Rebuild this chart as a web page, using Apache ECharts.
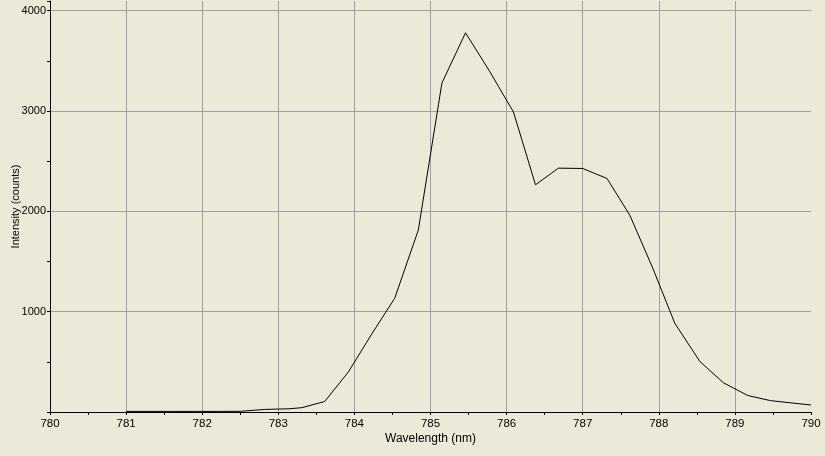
<!DOCTYPE html>
<html>
<head>
<meta charset="utf-8">
<script src="https://cdn.jsdelivr.net/npm/echarts@6/dist/echarts.min.js"></script>
<style>
html,body{margin:0;padding:0;background:#ECE9D8;}
#chart{width:825px;height:456px;}
</style>
</head>
<body>
<div id="chart"></div>
<script>
var wavelength = [781.0, 781.3, 781.6, 781.9, 782.2, 782.5, 782.83, 783.14, 783.31, 783.61, 783.92, 784.22, 784.53, 784.84, 785.15, 785.46, 785.77, 786.09, 786.38, 786.68, 787.0, 787.32, 787.62, 787.92, 788.21, 788.54, 788.85, 789.17, 789.47, 789.71, 790.0];
var intensity = [6, 6, 6, 6, 6, 7, 26, 32, 43, 105, 398, 768, 1134, 1813, 3278, 3779, 3404, 2990, 2264, 2430, 2427, 2327, 1960, 1435, 885, 503, 291, 164, 113, 93, 70];
var xTitle = 'Wavelength (nm)';
var yTitle = 'Intensity (counts)';

var points = wavelength.map(function (w, i) { return [w, intensity[i]]; });
var font = 'Liberation Sans';
var plain = function (v) { return String(Math.round(v)); };
var chart = echarts.init(document.getElementById('chart'));
chart.setOption({
  backgroundColor: '#ECE9D8',
  animation: false,
  grid: { left: 50, right: 14, top: 1, bottom: 44, containLabel: false, outerBoundsMode: 'none' },
  xAxis: {
    type: 'value', min: 780, max: 790, interval: 1,
    name: xTitle, nameLocation: 'middle', nameGap: 21, nameMoveOverlap: false,
    nameTextStyle: { fontFamily: font, fontSize: 12, color: '#000' },
    axisLine: { show: true, lineStyle: { color: '#000', width: 1 } },
    axisTick: { show: true, length: 3, lineStyle: { color: '#000' } },
    minorTick: { show: true, splitNumber: 2, length: 3, lineStyle: { color: '#000' } },
    axisLabel: { margin: 6, formatter: plain, fontFamily: font, fontSize: 11.5, color: '#000' },
    splitLine: { show: true, showMinLine: false, showMaxLine: false, lineStyle: { color: '#A0A0A0', width: 1 } }
  },
  yAxis: {
    type: 'value', min: 0, max: 4096, interval: 1000,
    name: yTitle, nameLocation: 'middle', nameGap: 29, nameMoveOverlap: false,
    nameTextStyle: { fontFamily: font, fontSize: 11, color: '#000' },
    axisLine: { show: true, lineStyle: { color: '#000', width: 1 } },
    axisTick: { show: true, length: 3, lineStyle: { color: '#000' } },
    minorTick: { show: true, splitNumber: 2, length: 3, lineStyle: { color: '#000' } },
    axisLabel: { margin: 4, formatter: plain, showMinLabel: false, showMaxLabel: false, fontFamily: font, fontSize: 11, color: '#000' },
    splitLine: { show: true, showMinLine: false, showMaxLine: false, lineStyle: { color: '#A0A0A0', width: 1 } }
  },
  series: [{
    type: 'line',
    data: points,
    showSymbol: false,
    symbol: 'none',
    lineStyle: { color: '#000', width: 1 },
    clip: true
  }]
});
</script>
</body>
</html>
